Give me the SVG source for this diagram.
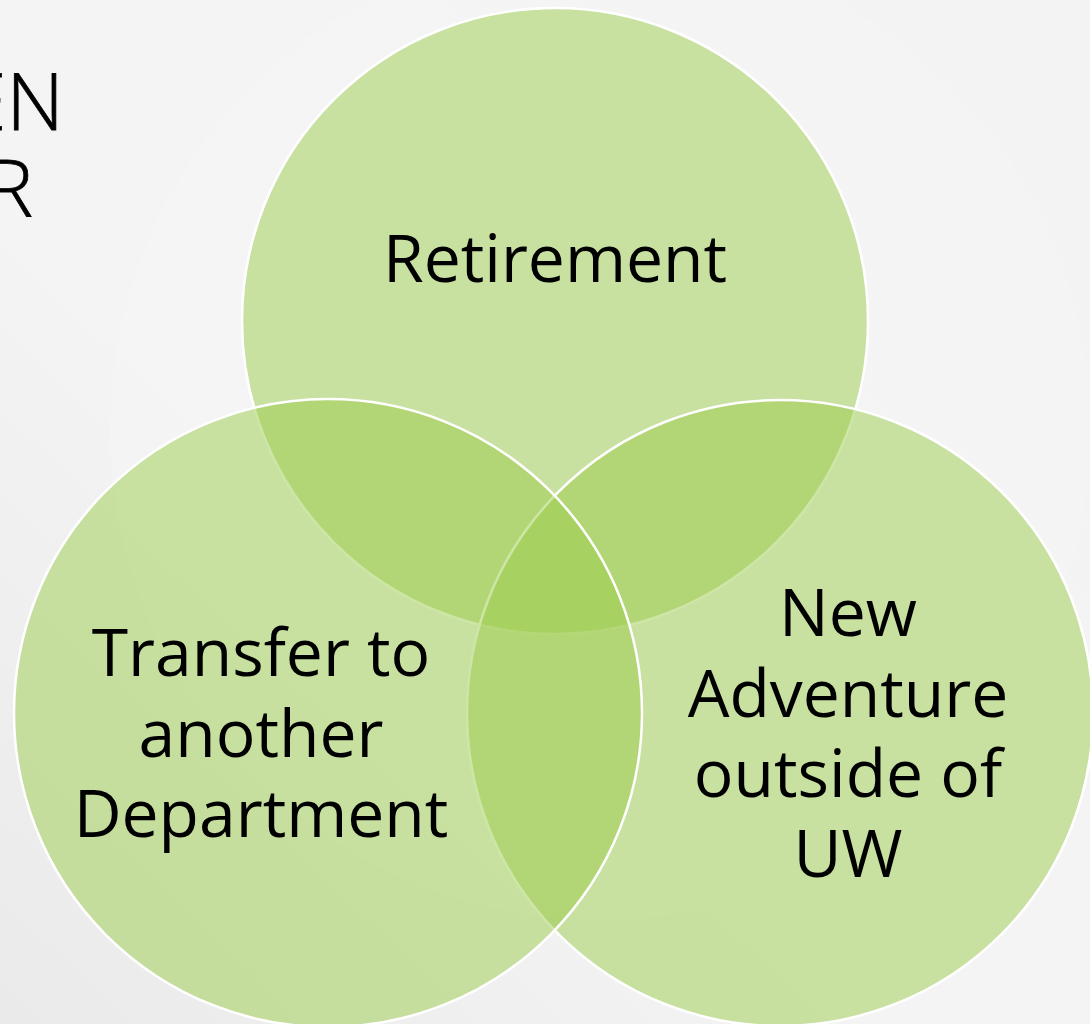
<svg xmlns="http://www.w3.org/2000/svg" width="1090" height="1024" viewBox="0 0 1090 1024">
  <defs>
    <linearGradient id="bg" x1="1" y1="0" x2="0" y2="1">
      <stop offset="0" stop-color="#f3f3f3"/>
      <stop offset="0.6" stop-color="#f4f4f4"/>
      <stop offset="1" stop-color="#eaeaea"/>
    </linearGradient>
    <style>
      .set { fill: #9ccc4c; fill-opacity: 0.5; stroke: #ffffff; stroke-width: 2.5; }
      .label { font-family: "Open Sans", "Noto Sans", "Liberation Sans", sans-serif; font-size: 66px; fill: #000000; text-anchor: middle; }
      .title { font-family: "Open Sans", "Noto Sans", "Liberation Sans", sans-serif; font-weight: 300; font-size: 80px; fill: #000000; text-anchor: end; stroke: #000000; stroke-width: 0.8; }
    </style>
  </defs>

  <!-- slide background -->
  <rect x="0" y="0" width="1090" height="1024" fill="url(#bg)"/>
  <circle cx="600" cy="430" r="490" fill="#f7f7f7" opacity="0.3"/>

  <!-- partly visible title -->
  <g id="title">
    <text class="title" x="64" y="130">EN</text>
    <text class="title" x="33" y="217">R</text>
  </g>

  <!-- Venn sets -->
  <g id="retirement">
    <circle class="set" cx="555" cy="321" r="313"/>
    <text class="label" x="555" y="282">Retirement</text>
  </g>
  <g id="new-adventure">
    <circle class="set" cx="780" cy="713" r="313"/>
    <text class="label" x="848" y="636">New</text>
    <text class="label" x="848" y="717">Adventure</text>
    <text class="label" x="848" y="797">outside of</text>
    <text class="label" x="848" y="877">UW</text>
  </g>
  <g id="transfer">
    <circle class="set" cx="328" cy="713" r="314"/>
    <text class="label" x="261" y="676">Transfer to</text>
    <text class="label" x="261" y="757">another</text>
    <text class="label" x="261" y="837">Department</text>
  </g>

  <g id="connectors"/>
</svg>
